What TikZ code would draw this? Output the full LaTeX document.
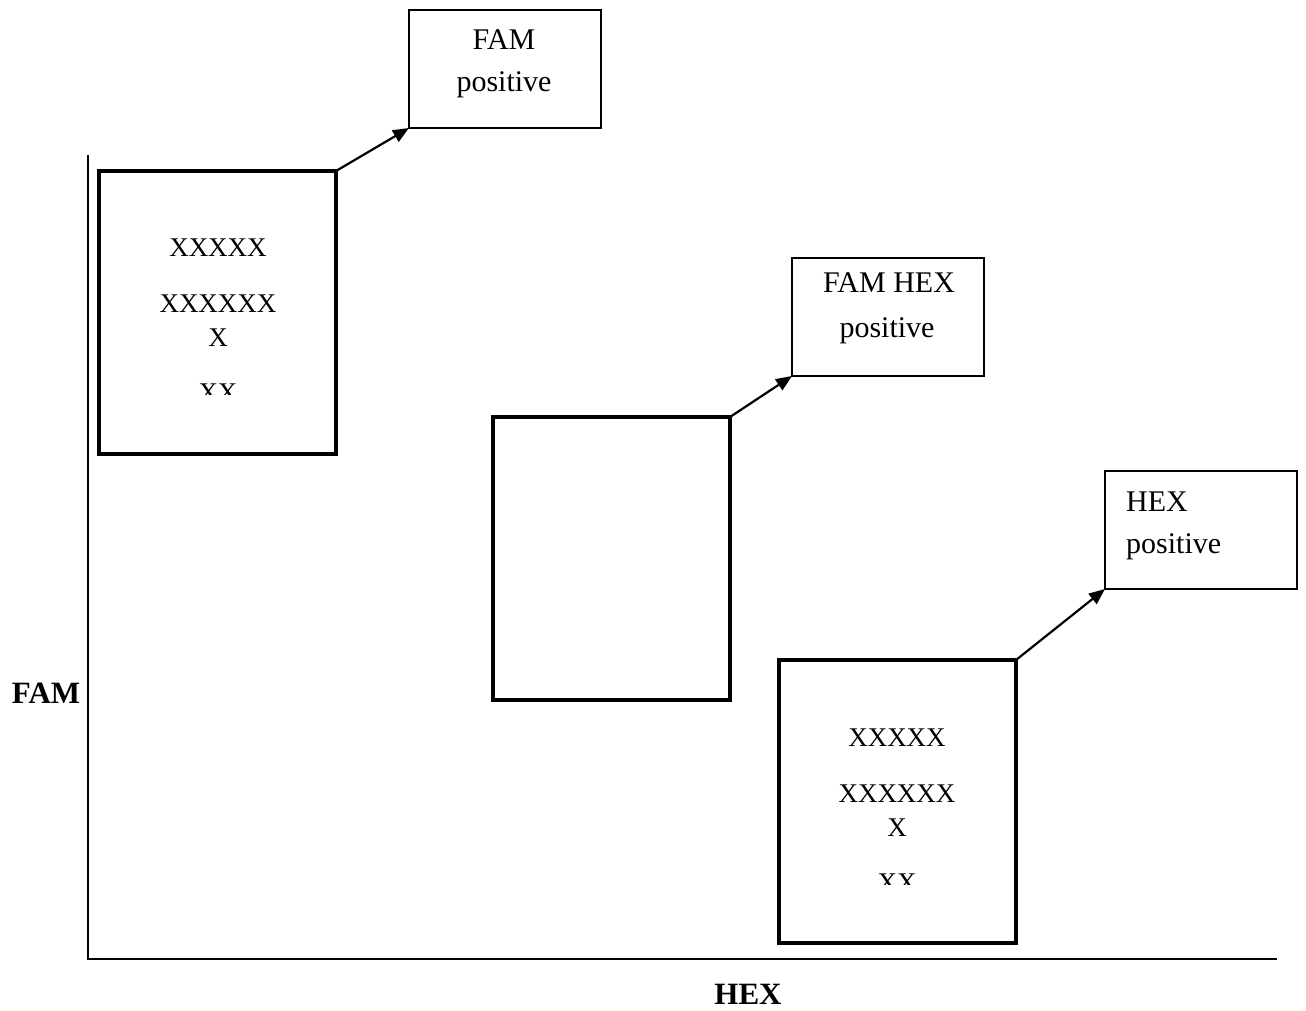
\documentclass[tikz,border=0pt]{standalone}
\usepackage{fontspec}
\setmainfont{Liberation Serif}
\usetikzlibrary{arrows.meta}
\tikzset{
  bigbox/.style={draw, line width=4pt, minimum width=237pt, minimum height=283pt, inner sep=0pt, outer sep=0pt, anchor=north west},
  smallbox/.style={draw, line width=2pt, minimum width=192pt, minimum height=118pt, inner sep=0pt, outer sep=0pt, anchor=north west},
  txt/.style={font=\fontsize{27}{41}\selectfont, inner sep=0pt, anchor=base},
  btxt/.style={font=\fontsize{30}{41}\selectfont, inner sep=0pt, anchor=base},
  axlabel/.style={font=\fontsize{31}{36}\selectfont\bfseries, inner sep=0pt, anchor=base},
  conn/.style={line width=2.2pt, -{Triangle[length=16pt,width=13pt]}},
  axis/.style={line width=1.5pt}
}
\begin{document}
\begin{tikzpicture}[x=1pt,y=-1pt]
\useasboundingbox (0,0) rectangle (1306,1011);
% axes
\coordinate (otop) at (88,155);
\coordinate (orig) at (88,959);
\coordinate (oright) at (1277,959);
\draw[axis] (otop) -- (orig) -- (oright);
\node[axlabel] (famlab) at (46,703) {FAM};
\node[axlabel] (hexlab) at (748,1004) {HEX};
% big boxes
\node[bigbox] (b1) at (99,171) {};
\node[bigbox] (b2) at (493,417) {};
\node[bigbox] (b3) at (779,660) {};
% small boxes
\node[smallbox] (s1) at (409,10) {};
\node[smallbox] (s2) at (792,258) {};
\node[smallbox] (s3) at (1105,471) {};
% texts in small boxes
\node[btxt] (s1a) at (504,50) {FAM};
\node[btxt] (s1b) at (504,92) {positive};
\node[btxt] (s2a) at (889,292) {FAM HEX};
\node[btxt] (s2b) at (887,337) {positive};
\node[btxt, anchor=base west] (s3a) at (1126,511) {HEX};
\node[btxt, anchor=base west] (s3b) at (1126,553) {positive};
% texts in big boxes
\node[txt] (b1a) at (218,256) {XXXXX};
\node[txt] (b1b) at (218,312) {XXXXXX};
\node[txt] (b1c) at (218,346) {X};
\begin{scope}
\clip (150,370) rectangle (290,394);
\node[txt] (b1d) at (218,401) {XX};
\end{scope}
\node[txt] (b3a) at (897,746) {XXXXX};
\node[txt] (b3b) at (897,802) {XXXXXX};
\node[txt] (b3c) at (897,836) {X};
\begin{scope}
\clip (830,860) rectangle (970,884);
\node[txt] (b3d) at (897,891) {XX};
\end{scope}
% connectors
\draw[conn] (b1.north east) -- (s1.south west);
\draw[conn] (b2.north east) -- (s2.south west);
\draw[conn] (b3.north east) -- (s3.south west);
\end{tikzpicture}
\end{document}
